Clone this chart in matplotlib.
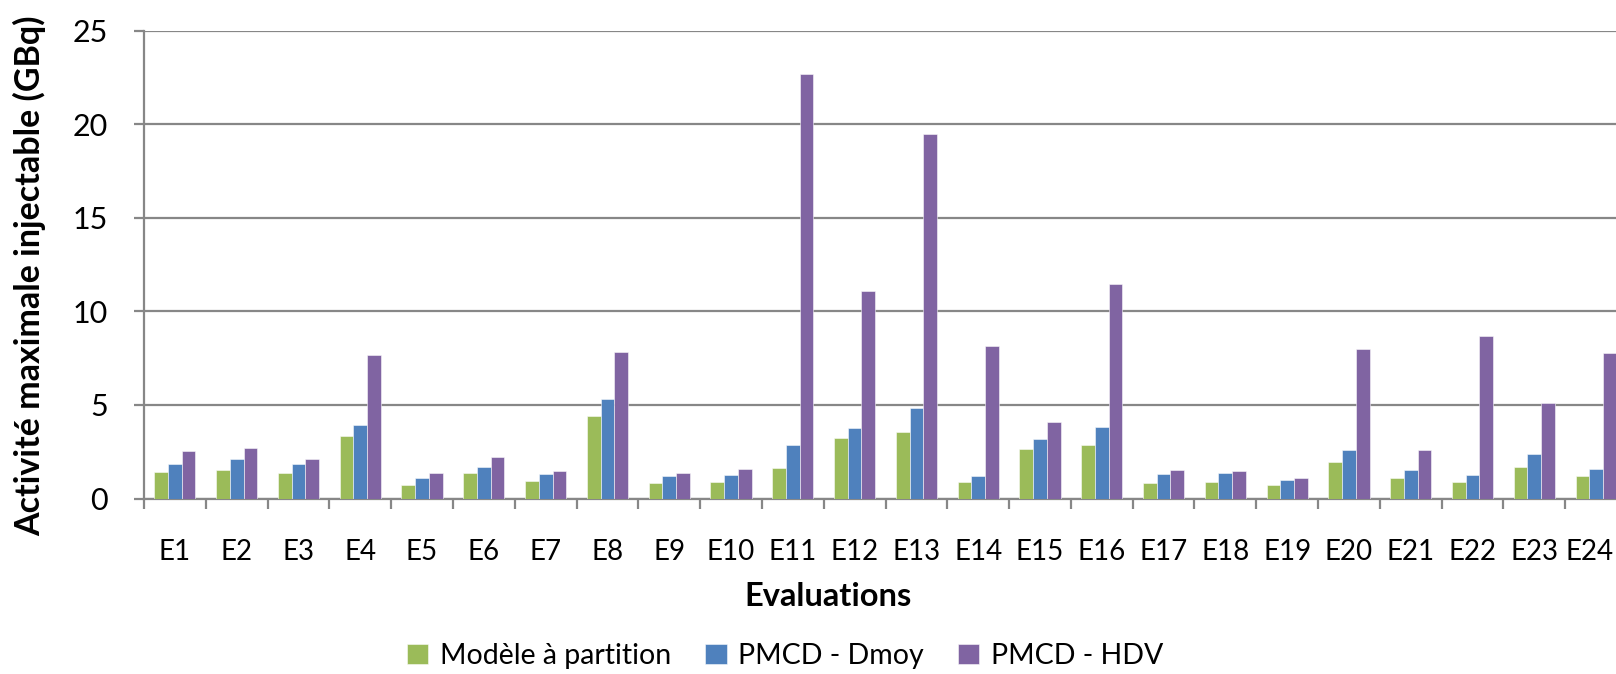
import matplotlib
matplotlib.use("Agg")
import matplotlib.pyplot as plt
import matplotlib.transforms as mtransforms
import numpy as np

categories = [f"E{i}" for i in range(1, 25)]
modele_partition = [1.41, 1.50, 1.34, 3.34, 0.71, 1.34, 0.96, 4.41, 0.82, 0.89, 1.61, 3.21,
                    3.55, 0.86, 2.63, 2.86, 0.82, 0.88, 0.70, 1.93, 1.09, 0.88, 1.68, 1.20]
pmcd_dmoy = [1.82, 2.09, 1.86, 3.91, 1.07, 1.68, 1.29, 5.34, 1.21, 1.23, 2.86, 3.75,
             4.82, 1.18, 3.16, 3.80, 1.30, 1.36, 0.98, 2.59, 1.52, 1.25, 2.38, 1.55]
pmcd_hdv = [2.52, 2.71, 2.11, 7.65, 1.34, 2.20, 1.45, 7.85, 1.34, 1.57, 22.69, 11.07,
            19.49, 8.15, 4.07, 11.45, 1.52, 1.46, 1.09, 7.98, 2.57, 8.68, 5.11, 7.78]
series_names = ["Modèle à partition", "PMCD - Dmoy", "PMCD - HDV"]
colors = ["#9BBB59", "#4F81BD", "#8064A2"]
yticks = [0, 5, 10, 15, 20, 25]

plt.rcParams['font.family'] = ['Lato', 'DejaVu Sans']

W, H = 1616, 674
fig = plt.figure(figsize=(W / 100, H / 100), dpi=100)
left, right = 144, 1627
y0, y25 = 498.5, 30.7
ax = fig.add_axes([left / W, (H - y0) / H, (right - left) / W, (y0 - y25) / H])

grey = "#878787"
x = np.arange(len(categories))
bw = 0.222
for i, (vals, name, c) in enumerate(zip([modele_partition, pmcd_dmoy, pmcd_hdv], series_names, colors)):
    ax.bar(x + (i - 1) * bw, vals, width=bw, color=c, edgecolor=(1, 1, 1, 0.6),
           linewidth=0.6, label=name, zorder=3)

ax.set_xlim(-0.5, len(categories) - 0.5)
ax.set_ylim(0, 25)
ax.set_yticks(yticks)
ax.set_yticklabels([str(v) for v in yticks])
ax.yaxis.grid(True, color=grey, linewidth=1.6, zorder=0)
ax.set_axisbelow(True)

ax.set_xticks(np.arange(-0.5, len(categories), 1.0))
ax.set_xticklabels([])
ax.set_xticks(x, minor=True)
ax.set_xticklabels(categories, minor=True)

for s in ["top", "right"]:
    ax.spines[s].set_visible(False)
for s in ["left", "bottom"]:
    ax.spines[s].set_color(grey)
    ax.spines[s].set_linewidth(1.6)

ax.tick_params(axis='y', which='major', direction='out', length=7.2, width=1.6, color=grey,
               labelsize=22, pad=19, labelcolor='black')
ax.tick_params(axis='x', which='major', direction='out', length=7.2, width=1.6, color=grey)
ax.tick_params(axis='x', which='minor', length=0, labelsize=20, pad=29, labelcolor='black')

# keep the last label (at the clipped right edge) inside the figure
last = ax.get_xticklabels(minor=True)[-1]
last.set_transform(last.get_transform() + mtransforms.ScaledTranslation(-7 / 100, 0, fig.dpi_scale_trans))

fig.text(30 / W, 1 - 276 / H, "Activité maximale injectable (GBq)", rotation=90,
         ha='center', va='center', fontsize=24.5, fontweight='bold')
fig.text(828 / W, 1 - 597 / H, "Evaluations", ha='center', va='center',
         fontsize=23.5, fontweight='bold')

handles, labels = ax.get_legend_handles_labels()
leg = fig.legend(handles, labels, loc='center', bbox_to_anchor=(785 / W, 1 - 656 / H),
                 ncol=3, frameon=False, fontsize=20.5, handlelength=0.75, handleheight=0.75,
                 handletextpad=0.4, columnspacing=1.2, borderaxespad=0)

fig.savefig("out.png", dpi=100)
